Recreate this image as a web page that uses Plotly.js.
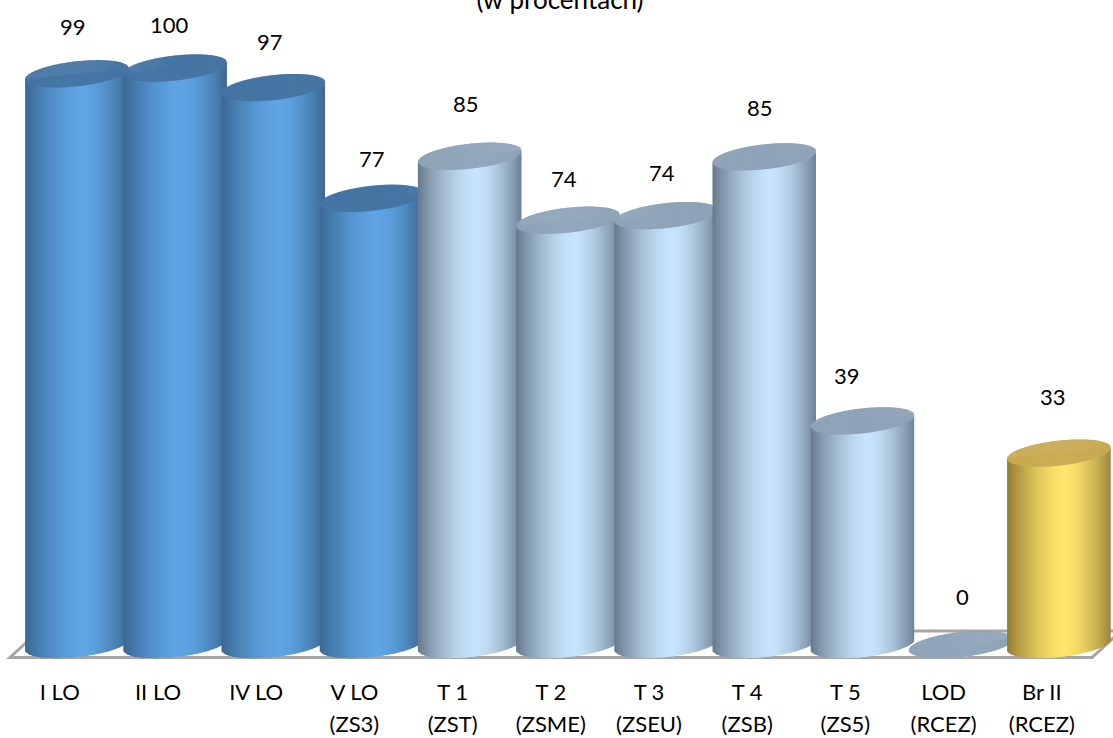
<!DOCTYPE html>
<html><head><meta charset="utf-8">
<script src="https://cdn.plot.ly/plotly-3.0.1.min.js"></script>
<style>html,body{margin:0;padding:0;background:#fff;overflow:hidden}</style>
</head><body><div id="chart" style="width:1113px;height:738px"></div>
<script>
// ---- data ----
const categories = ['I LO','II LO','IV LO','V LO','T 1','T 2','T 3','T 4','T 5','LOD','Br II'];
const subLabels  = ['','','','(ZS3)','(ZST)','(ZSME)','(ZSEU)','(ZSB)','(ZS5)','(RCEZ)','(RCEZ)'];
const values     = [99.0,100,96.6,77.4,84.7,73.6,74.4,84.6,38.8,0,33.2];
const groups     = [0,0,0,0,1,1,1,1,1,1,2];

// ---- layout constants (pixels) ----
const W=1113,H=738,PITCH=98.2,X0=76.8,Y0=644.5,PXU=5.765,BOTTOM=664;
const A=51.7,B=12.5,S=5.5;
const palette=[
 {edgeL:[58,104,148],peak:[95,165,228],edgeR:[60,104,146],cap:'#4575a3'},
 {edgeL:[104,122,140],peak:[198,228,252],edgeR:[110,130,150],cap:'#8fa4b8'},
 {edgeL:[148,124,52],peak:[255,228,108],edgeR:[158,134,62],cap:'#c9aa52'}
];
// label nudges from each column's cap centre, in pixels
const labelDX=[-4,-6,-3,1,-4,-4,-4,-4,-15,2,-6];
const labelDY=[47,44,46,40,53,42,43,49,45,48,57];
const tickShift=-17/PITCH;
const PEAK=0.56;

function mix(a,b,t){return a.map((v,i)=>v+(b[i]-v)*t);}
function shade(p,t){ // t from 0 (left) to 1 (right)
  const c = t<PEAK ? mix(p.edgeL,p.peak,1-Math.pow(1-t/PEAK,1.6))
                   : mix(p.edgeR,p.peak,1-Math.pow(1-(1-t)/(1-PEAK),1.6));
  return 'rgb('+c.map(Math.round).join(',')+')';
}

const sx=[],sw=[],sbase=[],sh=[],scol=[];
function pushStrip(px,cxIndex,cxPx,wpx,lo,hi,col){
  if(hi<=lo)return;
  sx.push(cxIndex+(px+wpx/2-cxPx)/PITCH); sw.push(wpx/PITCH);
  sbase.push(lo); sh.push(hi-lo); scol.push(col);
}
values.forEach((v,i)=>{
  const p=palette[groups[i]];
  const cx=X0+PITCH*i;
  const topC=Y0-v*PXU;
  const n=Math.round(2*A);
  const step=2*A/n;
  for(let k=0;k<n;k++){
    const px=cx-A+k*step, u=(px+step/2-cx)/A, r=Math.sqrt(Math.max(0,1-u*u));
    const bottomPx=Y0-S*u+B*r, topPx=topC-S*u;
    const w=k<n-1?step*2:step;
    pushStrip(px,i,cx,w,(Y0-bottomPx)/PXU,(Y0-topPx)/PXU,shade(p,(k+0.5)/n));
  }
  for(let k=0;k<n;k++){
    const px=cx-A+k*step, u=(px+step/2-cx)/A, r=Math.sqrt(Math.max(0,1-u*u));
    const lowPx=topC-S*u+B*r, upPx=topC-S*u-B*r;
    const w=k<n-1?step*1.5:step;
    pushStrip(px,i,cx,w,(Y0-lowPx)/PXU,(Y0-upPx)/PXU,p.cap);
  }
});

const xRange=[(0-X0)/PITCH,(W-X0)/PITCH];
const yRange=[(Y0-BOTTOM)/PXU,Y0/PXU];
const xOf=px=>(px-X0)/PITCH, yOf=py=>(Y0-py)/PXU;

const idx=categories.map((_,i)=>i+tickShift);
const traces=[
 {type:'bar',x:sx,y:sh,base:sbase,width:sw,opacity:1,
  marker:{color:scol,opacity:1,line:{width:0}},hoverinfo:'skip',showlegend:false,cliponaxis:false},
 {type:'scatter',mode:'none',x:idx,y:values,xaxis:'x2',yaxis:'y',hoverinfo:'skip',showlegend:false}
];

const floorPts=[[10,657.5],[1092,657.5],[1121,631],[39,631]];
const floorPath='M'+floorPts.map(q=>xOf(q[0])+','+yOf(q[1])).join(' L')+' Z';

const annotations=values.map((v,i)=>({
  xref:'x',yref:'y',x:i,y:v,text:String(Math.round(v)),showarrow:false,
  xshift:labelDX[i],yshift:labelDY[i],font:{family:'Lato',size:22,color:'#000'}
}));

const tickAxis={type:'linear',range:xRange,tickmode:'array',showgrid:false,zeroline:false,showline:false,
  ticks:'',tickfont:{family:'Lato',size:22,color:'#000'},tickangle:0,fixedrange:true};

Plotly.newPlot('chart',traces,{
  width:W,height:H,paper_bgcolor:'#fff',plot_bgcolor:'rgba(0,0,0,0)',
  margin:{l:0,r:0,t:0,b:H-BOTTOM,pad:0},autosize:false,barmode:'overlay',showlegend:false,
  title:{text:'(w procentach)',font:{family:'Lato',size:26,color:'#000'},x:560/W,xanchor:'center',y:1-(-8)/H,yanchor:'middle',automargin:false},
  xaxis:Object.assign({},tickAxis,{tickvals:idx,ticktext:categories,ticklabelstandoff:13}),
  xaxis2:Object.assign({},tickAxis,{overlaying:'x',side:'bottom',anchor:'y',tickvals:idx,ticktext:subLabels,ticklabelstandoff:45}),
  yaxis:{range:yRange,visible:false,fixedrange:true},
  shapes:[{type:'path',xref:'x',yref:'y',path:floorPath,layer:'below',fillcolor:'#fff',line:{color:'#a6a6a6',width:3}}],
  annotations:annotations
},{displayModeBar:false,staticPlot:true});
</script></body></html>
